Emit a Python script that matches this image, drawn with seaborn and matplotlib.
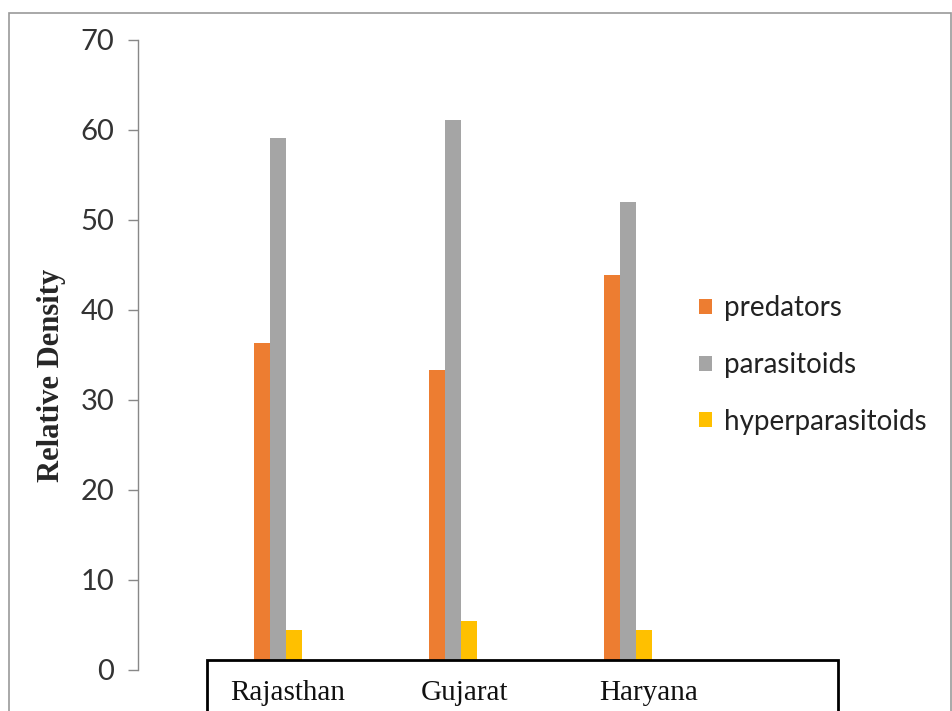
import numpy as np
import pandas as pd
import seaborn as sns
import matplotlib.pyplot as plt
from matplotlib.patches import Rectangle
from matplotlib.transforms import ScaledTranslation

states = ["Rajasthan", "Gujarat", "Haryana"]
groups = ["predators", "parasitoids", "hyperparasitoids"]
predators = [36.3, 33.3, 43.9]
parasitoids = [59.1, 61.1, 52.0]
hyperparasitoids = [4.4, 5.4, 4.4]
colors = ["#ED7D31", "#A5A5A5", "#FFC000"]

df = pd.DataFrame({
    "state": states * 3,
    "group": [g for g in groups for _ in states],
    "value": predators + parasitoids + hyperparasitoids,
})

sns.set_style("white")
plt.rcParams["font.family"] = ["Lato", "DejaVu Sans"]

fig = plt.figure(figsize=(9.52, 7.11), dpi=100)
ax = fig.add_axes([138/952, 41/711, 562/952, 630/711])

sns.barplot(data=df, x="state", y="value", hue="group", hue_order=groups,
            palette=colors, width=0.274, gap=0, ax=ax, saturation=1,
            errorbar=None, linewidth=0)

ax.set_xlim(-0.8, (700 - 278) / 175)
ax.set_ylim(0, 70)
ax.set_yticks(range(0, 71, 10))
ax.tick_params(axis="y", left=True, labelsize=21, length=7, color="#888888",
               width=1, pad=10, labelcolor="#333333")
ax.tick_params(axis="x", length=0, pad=7)
# labels in the source sit a little right of the bar groups
shifts = [10, 11, 21]
for lab, dx in zip(ax.get_xticklabels(), shifts):
    lab.set_family("Liberation Serif")
    lab.set_fontsize(21)
    lab.set_color("#111111")
    lab.set_transform(lab.get_transform() + ScaledTranslation(dx/100, 0, fig.dpi_scale_trans))

for s in ["top", "right", "bottom"]:
    ax.spines[s].set_visible(False)
ax.spines["left"].set_color("#888888")
ax.spines["left"].set_linewidth(1)

ax.set_xlabel("")
ax.set_ylabel("Relative Density", family="Liberation Serif", fontweight="bold", fontsize=22)
ax.yaxis.set_label_coords((66 - 138) / 562, (670 - 375) / 630)

leg = ax.legend(loc="center left", bbox_to_anchor=(699/952, (711-365)/711),
                bbox_transform=fig.transFigure, frameon=False, fontsize=20,
                handlelength=0.45, handleheight=0.45, handletextpad=0.45,
                labelspacing=1.1, borderpad=0, borderaxespad=0)
for t in leg.get_texts():
    t.set_color("#222222")

# white strip hides the bar bottoms under the label box
ax.add_patch(Rectangle((207/952, (711-671)/711), (838-207)/952, 11/711,
                       transform=fig.transFigure, facecolor="white",
                       edgecolor="none", zorder=2, clip_on=False))
# box around the category labels
fig.patches.append(Rectangle((207/952, -0.1), (838-207)/952, 0.1 + (711-660)/711,
                             transform=fig.transFigure, fill=False, edgecolor="black",
                             linewidth=2, clip_on=False))
# outer frame
fig.patches.append(Rectangle((9/952, -0.1), (951-9)/952, 0.1 + (711-13)/711,
                             transform=fig.transFigure, fill=False, edgecolor="#999999",
                             linewidth=1.2, clip_on=False))

fig.savefig("out.png", dpi=100)
